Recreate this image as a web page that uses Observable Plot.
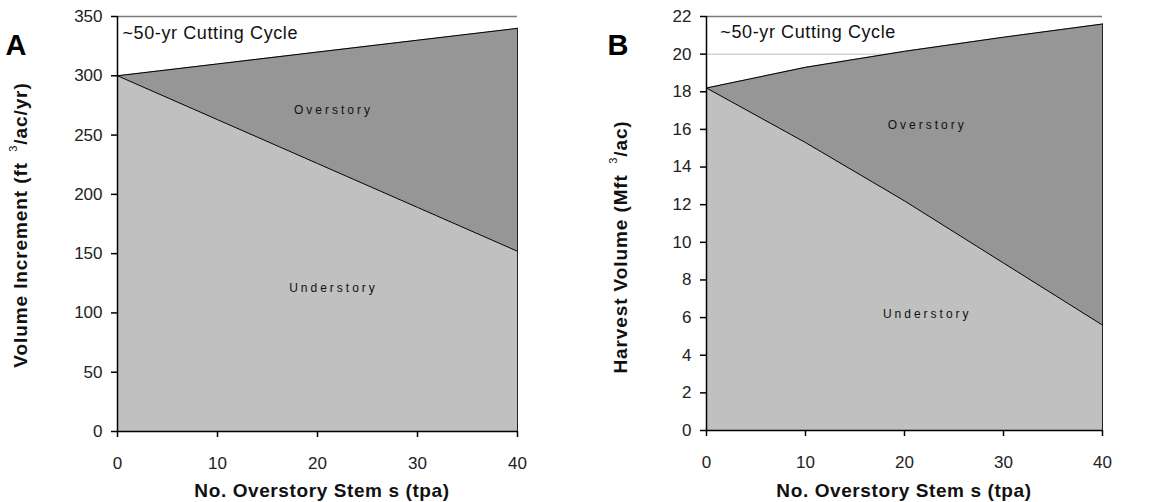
<!DOCTYPE html>
<html>
<head>
<meta charset="utf-8">
<script src="https://cdn.jsdelivr.net/npm/d3@7"></script>
<script src="https://cdn.jsdelivr.net/npm/@observablehq/plot@0.6"></script>
<style>
  html, body { margin: 0; padding: 0; background: #fff; }
  #wrap { position: relative; width: 1165px; height: 502px; overflow: hidden; background: #fff; }
  #panelA { position: absolute; left: 0; top: 0; }
  #panelB { position: absolute; left: 580px; top: 0; }
  svg text { font-family: "Liberation Sans", Arial, sans-serif; }
</style>
</head>
<body>
<div id="wrap"><div id="panelA"></div><div id="panelB"></div></div>
<script>
// ---- data ----
const stems = [0, 10, 20, 30, 40];               // No. overstory stems (tpa)
const totalA = [300, 310, 320, 330, 340];        // total volume increment (ft3/ac/yr)
const underA = [300, 263, 226, 189, 152];        // understory share
const totalB = [18.2, 19.3, 20.15, 20.9, 21.6];  // total harvest volume (Mft3/ac)
const underB = [18.2, 15.3, 12.2, 8.9, 5.6];     // understory share
const xTicks = [0, 10, 20, 30, 40];
const yTicksA = [0, 50, 100, 150, 200, 250, 300, 350];
const yTicksB = [0, 2, 4, 6, 8, 10, 12, 14, 16, 18, 20, 22];
const cycleLabel = "~50-yr Cutting Cycle";

const OVER = "#969696", UNDER = "#c0c0c0";

function panel(total, under, yTicks, ymax, opts) {
  const rows = stems.map((s, i) => ({x: s, total: total[i], under: under[i]}));
  const last = rows[rows.length - 1];
  return Plot.plot({
    width: opts.width, height: 502,
    marginLeft: opts.ml, marginRight: opts.mr, marginTop: opts.mt, marginBottom: opts.mb,
    x: {domain: [0, 40]},
    y: {domain: [0, ymax]},
    style: {fontFamily: "Liberation Sans, Arial, sans-serif", fontSize: "17px", color: "#222", background: "white", overflow: "visible"},
    marks: [
      Plot.ruleY(yTicks.filter(d => d > 0 && d < ymax), {stroke: "#c0c0c0", strokeWidth: 1}),
      Plot.ruleY([ymax], {stroke: "#7a7a7a", strokeWidth: 1.5}),
      Plot.areaY(rows, {x: "x", y: "total", fill: OVER}),
      Plot.areaY(rows, {x: "x", y: "under", fill: UNDER}),
      Plot.line(rows, {x: "x", y: "total", stroke: "black", strokeWidth: 1}),
      Plot.line(rows, {x: "x", y: "under", stroke: "black", strokeWidth: 1}),
      Plot.ruleX([last], {x: "x", y1: 0, y2: "total", stroke: "#222", strokeWidth: 1}),
      Plot.ruleY([0], {stroke: "black", strokeWidth: 1.5}),
      Plot.ruleX([0], {stroke: "black", strokeWidth: 1.5}),
      Plot.axisX({ticks: xTicks, tickSize: 6, tickPadding: 19, label: null, fontSize: 17, stroke: "black", strokeWidth: 1.5}),
      Plot.axisY({ticks: yTicks, tickSize: 6, tickPadding: 9, label: null, fontSize: 17, stroke: "black", strokeWidth: 1.5}),
      Plot.text([cycleLabel], {x: opts.cx, y: opts.cy, text: d => d, textAnchor: "start", fontSize: 18, fill: "#111", className: "cyc"}),
      Plot.text(["Overstory"], {x: opts.lx, y: opts.oy, text: d => d, fontSize: 12, fill: "#111", className: "lbl"}),
      Plot.text(["Understory"], {x: opts.lx, y: opts.uy, text: d => d, fontSize: 12, fill: "#111", className: "lbl"})
    ]
  });
}

const plotA = panel(totalA, underA, yTicksA, 350, {width: 580, ml: 117, mr: 63, mt: 16, mb: 71, cx: 0.5, cy: 335.7, lx: 21.6, oy: 270.7, uy: 120.6});
const plotB = panel(totalB, underB, yTicksB, 22, {width: 585, ml: 126, mr: 63, mt: 16, mb: 72, cx: 1.4, cy: 21.15, lx: 22.3, oy: 16.2, uy: 6.16});
document.getElementById("panelA").appendChild(plotA);
document.getElementById("panelB").appendChild(plotB);

d3.selectAll(".lbl text").attr("letter-spacing", "3px");
d3.selectAll(".cyc text").attr("letter-spacing", "0.6px");

function titles(svg, letter, lx, ly, ytitle, ysup, yrest, tx, ty, xcx) {
  const s = d3.select(svg);
  s.append("text").attr("x", lx).attr("y", ly).attr("text-anchor", "middle").attr("dominant-baseline", "central")
    .attr("font-size", 29).attr("font-weight", "bold").attr("fill", "#000").text(letter);
  const t = s.append("text").attr("transform", `translate(${tx},${ty}) rotate(-90)`)
    .attr("text-anchor", "middle").attr("dominant-baseline", "central")
    .attr("font-size", 19).attr("font-weight", "bold").attr("letter-spacing", "0.9px").attr("fill", "#111");
  t.append("tspan").text(ytitle + "\u2002");
  t.append("tspan").attr("font-size", 11).attr("font-weight", "normal").attr("dy", -7).text(ysup);
  t.append("tspan").attr("dy", 7).text(yrest);
  s.append("text").attr("x", xcx).attr("y", 490).attr("text-anchor", "middle").attr("dominant-baseline", "central")
    .attr("font-size", 19).attr("font-weight", "bold").attr("letter-spacing", "0.6px").attr("fill", "#111").text("No. Overstory Stem s (tpa)");
}
titles(plotA, "A", 16, 45, "Volume Increment (ft", "3", "/ac/yr)", 20, 225, 322);
titles(plotB, "B", 38, 45, "Harvest Volume (Mft", "3", "/ac)", 40, 247, 324);
</script>
</body>
</html>
